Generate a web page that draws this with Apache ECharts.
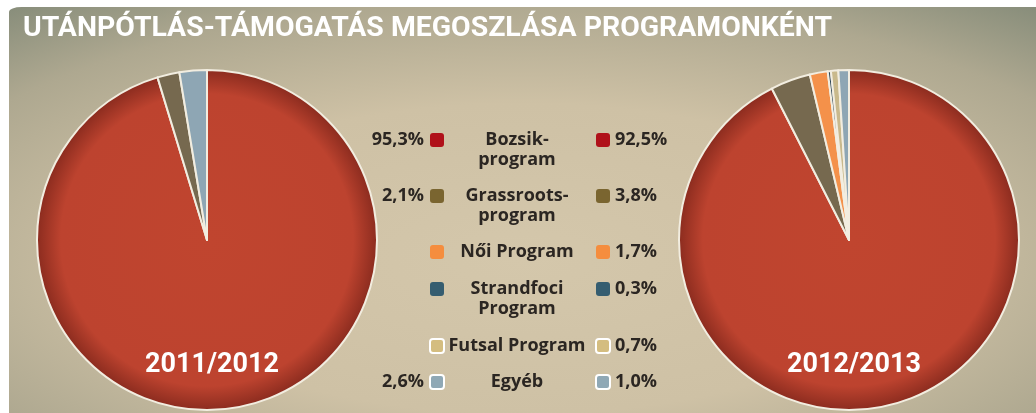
<!DOCTYPE html>
<html>
<head>
<meta charset="utf-8">
<script src="https://cdn.jsdelivr.net/npm/echarts@6/dist/echarts.min.js"></script>
<style>
    html, body { margin: 0; padding: 0; background: #fff; }
    #chart { width: 1036px; height: 413px; }
</style>
</head>
<body>
<div id="chart"></div>
<script>
    // categories and shares (percent) per season
    var categories = ['Bozsik-\nprogram', 'Grassroots-\nprogram', 'Női Program', 'Strandfoci\nProgram', 'Futsal Program', 'Egyéb']
    var values2011 = [95.3, 2.1, null, null, null, 2.6]
    var values2012 = [92.5, 3.8, 1.7, 0.3, 0.7, 1.0]
    var seasons = ['2011/2012', '2012/2013']

    var pieColors = ['#bf4431', '#76694f', '#f4914a', '#2c4455', '#c9b98c', '#8ea6b4']
    var keyColors = ['#b0111a', '#7a6530', '#f58d3e', '#355d70', '#d4bd80', '#8fa8b5']
    var keyBorder = [false, false, false, false, true, true]
    var rowY = [140, 196, 252, 289, 346, 382]

    var pieCenters = [[207, 240], [849, 240]]
    var pieRadius = 170
    var keyFont = 'bold 18px "Open Sans"'

    function fmt(v) {
        return v.toFixed(1).replace('.', ',') + '%'
    }

    function pieData(values, center) {
        var data = []
        values.forEach(function (v, i) {
            if (v == null) return
            var color = pieColors[i]
            if (i === 0) {
                color = {
                    type: 'radial', x: center[0], y: center[1], r: pieRadius, global: true,
                    colorStops: [
                        {offset: 0, color: '#c0452f'},
                        {offset: 0.86, color: '#bd432f'},
                        {offset: 1, color: '#8c2c1f'}
                    ]
                }
            }
            data.push({name: categories[i].replace('\n', ' '), value: v, itemStyle: {color: color}})
        })
        return data
    }

    // panel background
    var graphics = [{
        type: 'rect',
        x: 9, y: 7,
        scaleX: 2.5,
        silent: true,
        z: -10,
        shape: {x: 0, y: 0, width: 1027 / 2.5, height: 406, r: [5, 0, 0, 0]},
        style: {
            fill: {
                type: 'radial', x: 0.5, y: 0.62, r: 0.85,
                colorStops: [
                    {offset: 0, color: '#d4c7ab'},
                    {offset: 0.45, color: '#cec1a5'},
                    {offset: 0.75, color: '#aea890'},
                    {offset: 1, color: '#7c8574'}
                ]
            }
        }
    }]

    // legend block in the middle, built from the arrays
    categories.forEach(function (name, i) {
        var y = rowY[i]
        graphics.push({
            type: 'rect',
            shape: {x: 430, y: y - 7, width: 14, height: 14, r: 3},
            style: {fill: keyColors[i], stroke: keyBorder[i] ? '#fff' : null, lineWidth: 2}
        })
        graphics.push({
            type: 'rect',
            shape: {x: 596, y: y - 7, width: 14, height: 14, r: 3},
            style: {fill: keyColors[i], stroke: keyBorder[i] ? '#fff' : null, lineWidth: 2}
        })
        graphics.push({
            type: 'text',
            x: 517, y: y - 10,
            style: {
                text: name, fill: '#2b2622', font: keyFont,
                align: 'center', verticalAlign: 'top', lineHeight: 20
            }
        })
        if (values2011[i] != null) {
            graphics.push({
                type: 'text',
                x: 424, y: y,
                style: {
                    text: fmt(values2011[i]), fill: '#2b2622', font: keyFont,
                    align: 'right', verticalAlign: 'middle'
                }
            })
        }
        if (values2012[i] != null) {
            graphics.push({
                type: 'text',
                x: 615, y: y,
                style: {
                    text: fmt(values2012[i]), fill: '#2b2622', font: keyFont,
                    align: 'left', verticalAlign: 'middle'
                }
            })
        }
    })

    var chart = echarts.init(document.getElementById('chart'), null, {renderer: 'canvas'})
    chart.setOption({
        animation: false,
        backgroundColor: '#fff',
        title: [{
            text: 'UTÁNPÓTLÁS-TÁMOGATÁS MEGOSZLÁSA PROGRAMONKÉNT',
            left: 18, top: 10,
            textStyle: {color: '#fff', fontFamily: 'Roboto', fontWeight: 'bold', fontSize: 28.4}
        }, {
            text: seasons[0],
            left: pieCenters[0][0], top: 347, textAlign: 'center',
            textStyle: {color: '#fff', fontFamily: 'Roboto', fontWeight: 'bold', fontSize: 27}
        }, {
            text: seasons[1],
            left: pieCenters[1][0], top: 347, textAlign: 'center',
            textStyle: {color: '#fff', fontFamily: 'Roboto', fontWeight: 'bold', fontSize: 27}
        }],
        graphic: graphics,
        series: [{
            type: 'pie',
            center: pieCenters[0],
            radius: pieRadius,
            startAngle: 90,
            label: {show: false},
            labelLine: {show: false},
            itemStyle: {borderColor: '#f2ede0', borderWidth: 2},
            data: pieData(values2011, pieCenters[0])
        }, {
            type: 'pie',
            center: pieCenters[1],
            radius: pieRadius,
            startAngle: 90,
            label: {show: false},
            labelLine: {show: false},
            itemStyle: {borderColor: '#f2ede0', borderWidth: 2},
            data: pieData(values2012, pieCenters[1])
        }]
    })
</script>
</body>
</html>
